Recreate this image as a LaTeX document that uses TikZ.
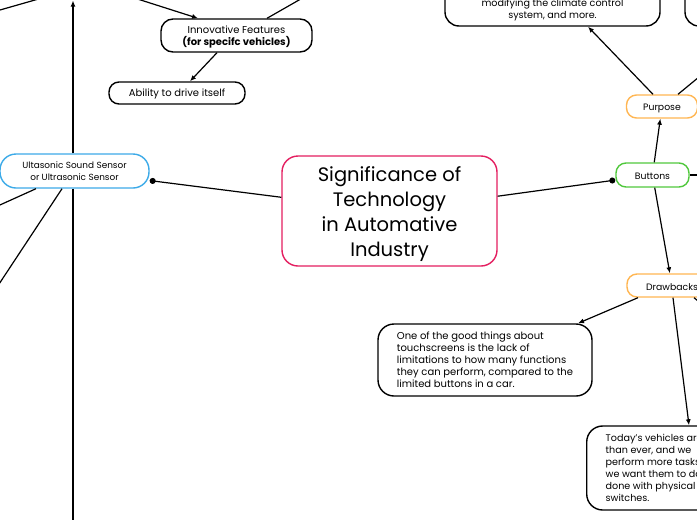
\documentclass[tikz,border=0pt]{standalone}
\usepackage{fontspec}
\setmainfont{Poppins}
\usetikzlibrary{arrows.meta}
\definecolor{crim}{RGB}{228,30,96}
\definecolor{grn}{RGB}{80,200,60}
\definecolor{org}{RGB}{255,182,82}
\definecolor{blu}{RGB}{60,170,232}
\newcommand{\smallf}{\fontsize{9.3}{12}\selectfont}
\newcommand{\medf}{\fontsize{10}{12}\selectfont}
\newcommand{\topf}{\fontsize{9.6}{12}\selectfont}
\newcommand{\ultf}{\fontsize{8.9}{12}\selectfont}
\newcommand{\bigf}{\fontsize{19.5}{25}\selectfont}
\newcommand{\st}[1]{\rule{0pt}{#1}}
\begin{document}
\begin{tikzpicture}[x=1pt,y=-1pt,
  box/.style={draw=black, line width=1.4pt, rounded corners=12pt, inner sep=0pt, align=center, font=\medf},
  colbox/.style={draw=#1, line width=1.4pt, rounded corners=10pt, inner sep=0pt, align=center, font=\smallf},
  txt/.style={inner sep=0pt, font=\topf},
  conn/.style={draw=black, line width=1.2pt},
  arr/.style={conn, -{Latex[length=6pt,width=5pt]}},
  dot/.style={conn, -{Circle[length=6pt]}}]
\useasboundingbox (0,0) rectangle (697,520);
\clip (0,0) rectangle (697,520);
\fill[white] (0,0) rectangle (697,520);

% nodes
\node[draw=crim, line width=1.4pt, rounded corners=16pt, minimum width=215pt, minimum height=110pt, inner sep=0pt, align=center, font=\bigf] (cen) at (389.5,211) {\st{21pt}Significance of\\Technology\\in Automative\\Industry};
\node[colbox=grn, minimum width=73pt, minimum height=24pt] (btn) at (652.5,175) {\st{9pt}Buttons};
\node[colbox=org, minimum width=71pt, minimum height=23pt] (pur) at (662,106.5) {\st{11pt}Purpose};
\node[colbox=org, minimum width=90pt, minimum height=23pt] (drw) at (672,285.5) {\st{11pt}Drawbacks};
\node[box, rounded corners=14pt, minimum width=215pt, minimum height=70pt] (topbox) at (552.5,-9) {};
\node[txt, align=center] (toptxt) at (552.5,10) {modifying the climate control\\system, and more.};
\node[box, rounded corners=14pt, minimum width=145pt, minimum height=70pt] (trbox) at (757.5,-9) {};
\node[box, rounded corners=16pt, minimum width=214pt, minimum height=72pt, align=left] (ch1) at (485,360) {One of the good things about\\touchscreens is the lack of\\limitations to how many functions\\they can perform, compared to the\\limited buttons in a car.};
\node[box, rounded corners=16pt, minimum height=84pt, inner xsep=19pt, align=left, anchor=west, font=\topf] (ch2) at (586,468) {Today's vehicles are\\than ever, and we\\perform more tasks\\we want them to do\\done with physical\\switches.};
\node[box, minimum width=151pt, minimum height=33pt] (inn) at (236.5,35.5) {\st{11pt}Innovative Features\\{\bfseries (for specifc vehicles)}};
\node[box, rounded corners=10pt, minimum width=136pt, minimum height=22pt] (abl) at (177,93) {\st{9.5pt}Ability to drive itself};
\node[colbox=blu, rounded corners=16pt, minimum width=149pt, minimum height=34pt, font=\ultf] (ult) at (74.5,171) {Ultasonic Sound Sensor\\or Ultrasonic Sensor};

% off-frame ends
\coordinate (offbtn) at (730,175);
\coordinate (offdrw) at (740,335);
\coordinate (upT) at (73,0.5);
\coordinate (downB) at (73,540);
\coordinate (llA) at (-30,328);
\coordinate (llB) at (-40,223);
\coordinate (tlA) at (-20,15.7);
\coordinate (tlB) at (70,-10);
\coordinate (innA) at (78,-20);
\coordinate (innB) at (334,-20);

% connectors
\draw[dot] (cen) -- (ult);
\draw[dot] (cen) -- (btn);
\draw[arr] (btn) -- (pur);
\draw[arr] (btn) -- (drw);
\draw[conn] (btn.east) -- (offbtn);
\draw[arr] ([xshift=-9pt]pur.north) -- ([xshift=35.5pt]topbox.south);
\draw[conn] ([xshift=16pt]pur.north) -- ([xshift=2.5pt]trbox.south);
\draw[arr] ([xshift=-34pt]drw.south) -- ([xshift=93pt]ch1.north);
\draw[arr] ([xshift=1pt]drw.south) -- ([xshift=103pt]ch2.north west);
\draw[conn] ([xshift=22pt]drw.south) -- (offdrw);
\draw[arr] ([xshift=-1.5pt]ult.north) -- (upT);
\draw[conn] ([xshift=-1.5pt]ult.south) -- (downB);
\draw[conn] ([xshift=-12.5pt]ult.south) -- (llA);
\draw[conn] ([xshift=-38.5pt]ult.south) -- (llB);
\draw[conn] (tlA) -- (tlB);
\draw[arr] (innA) -- ([xshift=-38.5pt]inn.north);
\draw[conn] ([xshift=30.5pt]inn.north) -- (innB);
\draw[arr] ([xshift=-19.5pt]inn.south) -- ([xshift=13pt]abl.north);
\end{tikzpicture}
\end{document}
